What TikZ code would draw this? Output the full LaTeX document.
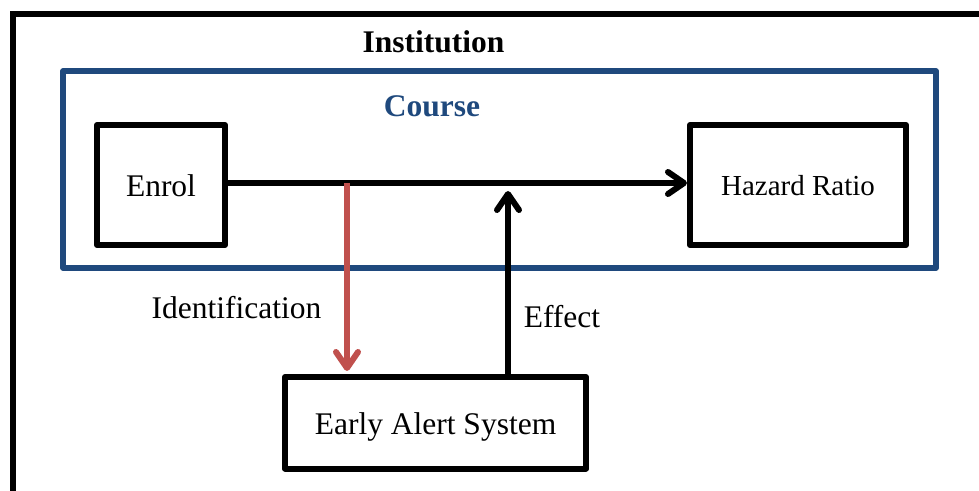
\documentclass[tikz,border=0pt]{standalone}
\usepackage{fontspec}
\setmainfont{Liberation Serif}
\usetikzlibrary{arrows.meta}
\definecolor{courseblue}{RGB}{31,73,125}
\definecolor{alertred}{RGB}{192,80,77}
\tikzset{
  boxnode/.style={draw=black, line width=3pt, line join=round, inner sep=0pt,
    text height=12pt, text depth=0pt, font=\fontsize{15.75}{19}\selectfont},
  label/.style={inner sep=0pt, anchor=base, font=\fontsize{15.75}{19}\selectfont},
  flow/.style={line width=3pt, line cap=butt,
    -{Straight Barb[length=8pt,width=11pt,line join=round,line cap=round]}},
}
\begin{document}
\begin{tikzpicture}[x=0.5pt,y=-0.5pt]
  \useasboundingbox (0,0) rectangle (979,491);
  \clip (0,0) rectangle (979,491);

  % institution frame and course frame
  \draw[line width=3pt] (13,14) rectangle (990,494);
  \draw[courseblue, line width=2.8pt, line join=round] (63,71) rectangle (936,268);

  \node[label, font=\fontsize{15.75}{19}\selectfont\bfseries] (inst) at (433.5,53) {Institution};
  \node[label, text=courseblue, font=\fontsize{15.75}{19}\selectfont\bfseries] (course) at (432,117) {Course};

  % boxes
  \node[boxnode, minimum width=64pt, minimum height=60pt] (enrol) at (161,185) {Enrol};
  \node[boxnode, minimum width=108pt, minimum height=60pt, text height=11pt,
        font=\fontsize{14.5}{17}\selectfont] (hazard) at (798,185) {Hazard Ratio};
  \node[boxnode, minimum width=150.5pt, minimum height=45.75pt] (eas) at (435.5,422.75) {Early Alert System};

  % connectors
  \coordinate (split) at (347,183);
  \coordinate (join) at (508,183);
  \draw[flow] (enrol.east |- split) -- (hazard.west |- split);
  \draw[flow, alertred, shorten >=1.5pt] (split) -- (split |- eas.north);
  \draw[flow, shorten >=4pt] (join |- eas.north) -- (join);

  \node[label] (ident) at (236.5,319) {Identification};
  \node[label] (effect) at (562,328) {Effect};
\end{tikzpicture}
\end{document}
